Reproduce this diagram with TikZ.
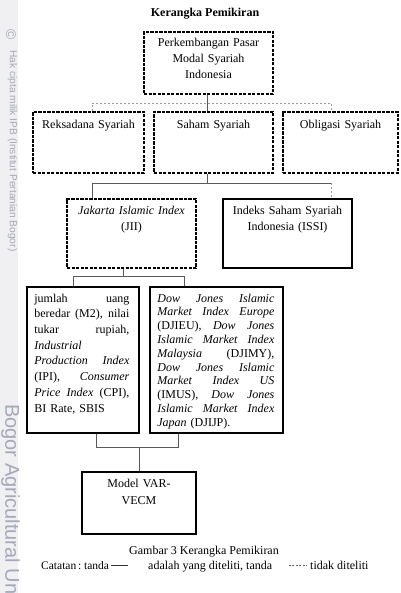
\documentclass[tikz,border=0pt]{standalone}
\usepackage{fontspec}
\setmainfont{Liberation Serif}
\newfontfamily\wmfont{Liberation Sans}
\newcommand\jl[1]{\hbox to\hsize{\spaceskip=.25em plus 1fil\relax #1}}
\newcommand\nl[1]{\hbox to\hsize{#1\hfil}}
\definecolor{wmcol}{RGB}{165,168,185}
\definecolor{stripcol}{RGB}{240,240,242}
\begin{document}
\begin{tikzpicture}[x=1pt,y=-1pt,
  box/.style={draw, line width=1.7pt, inner sep=0pt},
  dbox/.style={box, dash pattern=on 3.2pt off 1.3pt},
  conn/.style={draw=black!65, line width=0.8pt},
  dconn/.style={draw=black!40, line width=0.8pt, dash pattern=on 2.4pt off 1.6pt},
  ctxt/.style={inner sep=0pt, align=center, font=\fontsize{12}{16}\selectfont, anchor=base},
  ltxt/.style={inner sep=0pt, anchor=base west, font=\fontsize{12}{15.7}\selectfont},
  rtxt/.style={inner sep=0pt, anchor=base west, font=\fontsize{12}{13.8}\selectfont},
  wm/.style={inner sep=0pt, text=wmcol, rotate=-90}
]
\useasboundingbox (0,0) rectangle (400,593);
% watermark strip
\fill[stripcol] (0,0) rectangle (18,593);
\node[wm, font=\wmfont\fontsize{14}{14}\selectfont] (wmc) at (11,35) {©};
\node[wm, anchor=south west, font=\wmfont\fontsize{10.2}{10.2}\selectfont] (wm1) at (7.5,50) {Hak cipta milik IPB (Institut Pertanian Bogor)};
\node[wm, anchor=south west, font=\wmfont\fontsize{20}{20}\selectfont] (wm2) at (1,404) {Bogor Agricultural Un};

% title
\node[ctxt, font=\bfseries\fontsize{12}{14}\selectfont] (title) at (205,17) {Kerangka Pemikiran};

% boxes
\node[dbox, minimum width=129pt, minimum height=62pt] (top) at (208.5,63) {};
\node[dbox, minimum width=111pt, minimum height=61pt] (reks) at (88.5,142.5) {};
\node[dbox, minimum width=119pt, minimum height=61pt] (saham) at (213.5,142.5) {};
\node[dbox, minimum width=115pt, minimum height=61pt] (obli) at (340.5,142.5) {};
\node[dbox, minimum width=129pt, minimum height=69pt] (jii) at (131.5,233.5) {};
\node[box, minimum width=129pt, minimum height=69pt] (issi) at (287.5,233.5) {};
\node[box, minimum width=112pt, minimum height=146pt] (b5) at (83,360) {};
\node[box, minimum width=133pt, minimum height=146pt] (b6) at (216.5,360) {};
\node[box, minimum width=114pt, minimum height=62pt] (model) at (139,503) {};

% box texts
\node[ctxt, text width=125pt] (ttop) at ([yshift=-15pt]top.north) {Perkembangan Pasar\\ Modal Syariah\\ Indonesia};
\node[ctxt, text width=105pt] (treks) at ([yshift=-17pt]reks.north) {Reksadana Syariah};
\node[ctxt, text width=115pt] (tsaham) at ([yshift=-17pt]saham.north) {Saham Syariah};
\node[ctxt, text width=111pt] (tobli) at ([yshift=-17pt]obli.north) {Obligasi Syariah};
\node[ctxt, text width=125pt] (tjii) at ([yshift=-16pt]jii.north) {\textit{Jakarta Islamic Index}\\ (JII)};
\node[ctxt, text width=125pt] (tissi) at ([yshift=-16pt]issi.north) {Indeks Saham Syariah\\ Indonesia (ISSI)};
\node[ctxt, text width=110pt, font=\fontsize{12}{17}\selectfont] (tmodel) at ([yshift=-16pt]model.north) {Model VAR-\\ VECM};

\node[ltxt, text width=95pt] (t5) at ([xshift=8pt,yshift=-16pt]b5.north west) {%
\jl{jumlah uang}
\jl{beredar (M2), nilai}
\jl{tukar rupiah,}
\nl{\textit{Industrial}}
\jl{\textit{Production Index}}
\jl{(IPI), \textit{Consumer}}
\jl{\textit{Price Index} (CPI),}
\nl{BI Rate, SBIS}};

\node[rtxt, text width=117pt] (t6) at ([xshift=8pt,yshift=-16pt]b6.north west) {%
\jl{\textit{Dow Jones Islamic}}
\jl{\textit{Market Index Europe}}
\jl{(DJIEU), \textit{Dow Jones}}
\jl{\textit{Islamic Market Index}}
\jl{\textit{Malaysia} (DJIMY),}
\jl{\textit{Dow Jones Islamic}}
\jl{\textit{Market Index US}}
\jl{(IMUS), \textit{Dow Jones}}
\jl{\textit{Islamic Market Index}}
\nl{\textit{Japan} (DJIJP).}};

% connector junctions
\coordinate (c1) at (207.5,103);
\coordinate (aL) at (92,103);
\coordinate (aR) at (331,103);
\coordinate (bL) at (92,183);
\coordinate (bR) at (331,183);
\coordinate (c2) at (207.5,183);
\coordinate (cM) at (123,276);
\coordinate (cL) at (73,276);
\coordinate (cR) at (184,276);
\coordinate (dL) at (96,447);
\coordinate (dR) at (178,447);
\coordinate (dM) at (139,447);

% row 1 connectors
\draw[dconn] (reks.north -| aL) -- (aL) -- (aR) -- (obli.north -| aR);
\draw[conn] (top.south -| c1) -- (saham.north -| c1);
% row 2 connectors
\draw[conn] (saham.south -| c2) -- (c2);
\draw[conn] (jii.north -| bL) -- (bL) -- (bR);
\draw[dconn] (bR) -- (issi.north -| bR);
% row 3 connectors
\draw[conn] (jii.south -| cM) -- (cM);
\draw[conn] (b5.north -| cL) -- (cL) -- (cR) -- (b6.north -| cR);
% row 4 connectors
\draw[conn] (b5.south -| dL) -- (dL) -- (dR) -- (b6.south -| dR);
\draw[conn] (dM) -- (model.north);

% caption
\node[ctxt] (cap) at (204,554) {Gambar 3 Kerangka Pemikiran};
\node[inner sep=0pt, anchor=base west, font=\fontsize{11.5}{14}\selectfont] (cat1) at (41,569) {\spaceskip=.16em\relax Catatan : tanda};
\node[inner sep=0pt, anchor=base west, font=\fontsize{12}{14}\selectfont] (cat2) at (148,569) {adalah yang diteliti, tanda};
\node[inner sep=0pt, anchor=base west, font=\fontsize{12}{14}\selectfont] (cat3) at (310,569) {tidak diteliti};
\coordinate (l1a) at (111,565.5);
\coordinate (l1b) at (128,565.5);
\coordinate (l2a) at (289,565.5);
\coordinate (l2b) at (307,565.5);
\draw[black!80, line width=0.6pt] (l1a) -- (l1b);
\draw[black!60, line width=0.6pt, dash pattern=on 2pt off 1.4pt] (l2a) -- (l2b);
\end{tikzpicture}
\end{document}
